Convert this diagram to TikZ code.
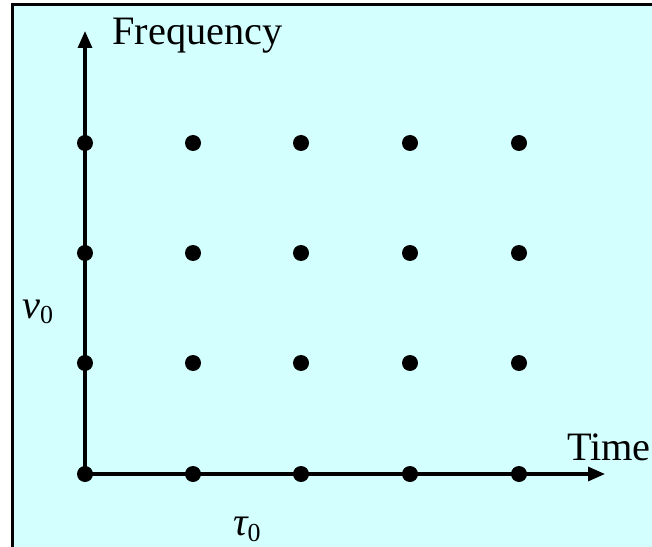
\documentclass[tikz,border=0pt]{standalone}
\usepackage{fontspec}
\setmainfont{Liberation Serif}
\usetikzlibrary{arrows.meta}
\definecolor{bgc}{HTML}{D4FFFF}
\begin{document}
\begin{tikzpicture}[x=1bp,y=-1bp,
  dot/.style={circle,fill=black,inner sep=0pt,minimum size=16bp},
  axis/.style={line width=3.2bp,-{Triangle[length=17bp,width=14bp]}},
  lbl/.style={inner sep=0pt,font=\fontsize{40.5}{48}\selectfont}]
\useasboundingbox (0,0) rectangle (652,547);
\fill[white] (0,0) rectangle (652,547);
\fill[bgc] (12,4) rectangle (652,547);
\draw[line width=3bp,line join=miter] (12,547) -- (12,4.5) -- (652,4.5);
\coordinate (o) at (85,474);
\coordinate (ytip) at (85,31);
\coordinate (xtip) at (605,474);
\draw[axis] (o) -- (ytip);
\draw[axis] (o) -- (xtip);
\foreach \x [count=\i] in {85,193,301,410,519}
  \foreach \y [count=\j] in {474,363,253,143}
    \node[dot] (d\i\j) at (\x,\y) {};
\node[lbl,anchor=base east] (freq) at (283,45) {Frequency};
\node[lbl,anchor=base east] (time) at (651,460) {Time};
\node[lbl,anchor=base west] (nu) at (22,318) {{\itshape ν}\raisebox{-5bp}{\fontsize{26}{28}\selectfont 0}};
\node[lbl,anchor=base west] (tau) at (233,535) {{\itshape τ}\raisebox{-6bp}{\fontsize{26}{28}\selectfont 0}};
\end{tikzpicture}
\end{document}
